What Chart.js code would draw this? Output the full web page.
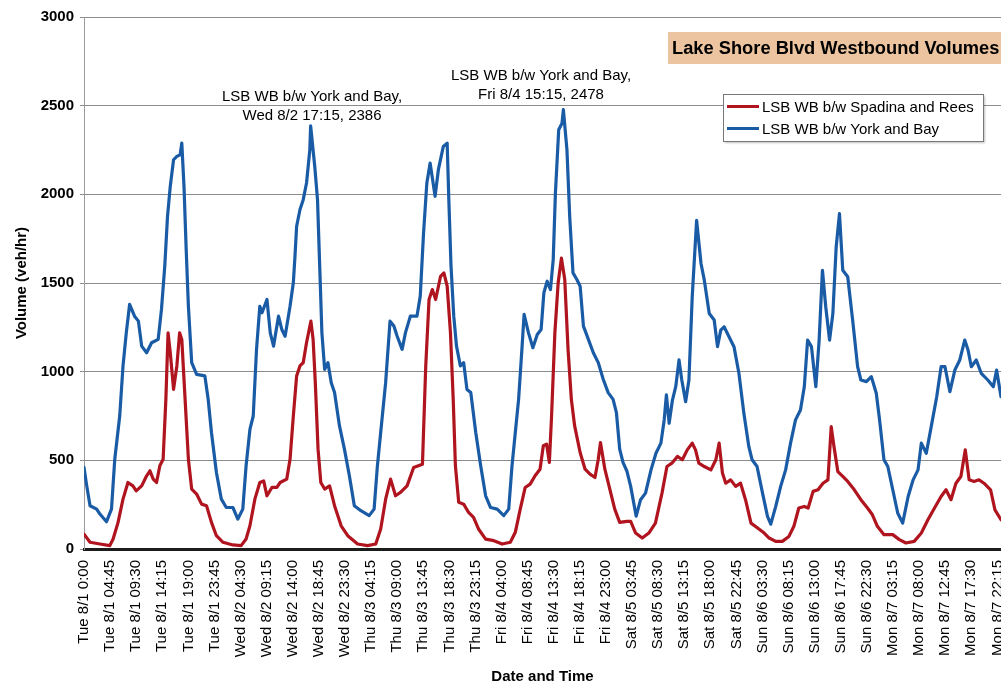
<!DOCTYPE html>
<html>
<head>
<meta charset="utf-8">
<title>Lake Shore Blvd Westbound Volumes</title>
<script src="https://cdn.jsdelivr.net/npm/chart.js@4.4.0/dist/chart.umd.min.js"></script>
<style>
  html, body { margin: 0; padding: 0; background: #fff; overflow: hidden; }
  #wrap { width: 1001px; height: 683px; }
</style>
</head>
<body>
<div id="wrap"><canvas id="chart" width="1001" height="683"></canvas></div>
<script>
// hours counted from Tue 8/1 0:00
const tickLabels = [
  'Tue 8/1 0:00', 'Tue 8/1 04:45', 'Tue 8/1 09:30', 'Tue 8/1 14:15', 'Tue 8/1 19:00', 'Tue 8/1 23:45',
  'Wed 8/2 04:30', 'Wed 8/2 09:15', 'Wed 8/2 14:00', 'Wed 8/2 18:45', 'Wed 8/2 23:30',
  'Thu 8/3 04:15', 'Thu 8/3 09:00', 'Thu 8/3 13:45', 'Thu 8/3 18:30', 'Thu 8/3 23:15',
  'Fri 8/4 04:00', 'Fri 8/4 08:45', 'Fri 8/4 13:30', 'Fri 8/4 18:15', 'Fri 8/4 23:00',
  'Sat 8/5 03:45', 'Sat 8/5 08:30', 'Sat 8/5 13:15', 'Sat 8/5 18:00', 'Sat 8/5 22:45',
  'Sun 8/6 03:30', 'Sun 8/6 08:15', 'Sun 8/6 13:00', 'Sun 8/6 17:45', 'Sun 8/6 22:30',
  'Mon 8/7 03:15', 'Mon 8/7 08:00', 'Mon 8/7 12:45', 'Mon 8/7 17:30', 'Mon 8/7 22:15'
];
const tickStep = 4.75;
const tickHours = tickLabels.map((l, i) => i * tickStep);

// LSB WB b/w York and Bay
const yorkHours = [
  0, 0.5, 1.1, 2.3, 2.9, 4.1, 5.0, 5.6, 6.5, 7.1, 7.7, 8.3, 9.2, 9.9, 10.5, 11.4, 12.3, 13.5, 14.1, 14.7,
  15.2, 15.7, 16.3, 16.9, 17.5, 17.8, 18.2, 18.6, 19.0, 19.6, 20.5, 22.0, 22.6, 23.2, 24.1, 25.0, 25.9, 27.1, 28.0, 28.9,
  29.5, 30.2, 30.8, 31.4, 32.0, 32.4, 33.3, 33.9, 34.5, 35.4, 36.0, 36.6, 37.5, 38.1, 38.4, 38.7, 39.3, 39.9, 40.5, 41.1,
  41.25, 42.0, 42.5, 42.9, 43.3, 43.8, 44.4, 45.0, 45.6, 46.5, 47.4, 48.3, 49.2, 50.4, 51.9, 52.8, 53.4, 54.0, 54.9, 55.7,
  56.4, 57.0, 57.9, 58.5, 59.4, 60.6, 61.2, 61.8, 62.4, 63.0, 63.9, 64.5, 65.4, 66.1, 66.4, 66.8, 67.3, 67.8, 68.5, 69.1,
  69.7, 70.4, 71.3, 72.2, 73.1, 74.0, 75.2, 76.4, 77.3, 77.9, 78.5, 79.1, 79.7, 80.1, 80.9, 81.7, 82.5, 83.2, 83.7, 84.3,
  84.9, 85.4, 85.8, 86.4, 87.0, 87.25, 87.9, 88.4, 89.0, 89.7, 90.3, 90.9, 91.8, 92.7, 93.6, 94.5, 95.4, 96.3, 96.9, 97.5,
  98.1, 98.8, 99.5, 100.5, 101.3, 102.2, 103.2, 104.1, 105.0, 105.6, 106.0, 106.5, 107.1, 107.7, 108.3, 108.8, 109.5, 110.1, 110.7, 111.5,
  112.3, 112.9, 113.8, 114.7, 115.3, 115.9, 116.5, 117.4, 118.3, 119.2, 120.1, 121.0, 121.6, 122.5, 123.5, 124.4, 125.0, 125.9, 126.8, 127.7,
  128.6, 129.5, 130.4, 131.1, 131.7, 132.4, 133.2, 133.8, 134.4, 135.0, 135.7, 136.3, 136.9, 137.5, 138.1, 139.0, 139.9, 140.8, 141.4, 142.4,
  143.3, 144.2, 144.8, 145.6, 146.3, 147.2, 148.1, 149.0, 150.0, 150.9, 151.8, 152.4, 153.3, 154.2, 155.2, 156.0, 156.7, 157.6, 158.5, 159.4,
  160.3, 160.9, 161.5, 162.4, 163.3, 164.5, 165.5, 166.1, 166.9
];
const yorkValues = [
  460, 356, 244, 225, 197, 154, 225, 506, 750, 1032, 1220, 1379, 1313, 1285, 1144, 1107, 1163, 1182, 1351, 1595,
  1876, 2045, 2195, 2214, 2223, 2289, 2045, 1688, 1369, 1051, 985, 976, 844, 657, 431, 281, 234, 234, 169, 225,
  469, 675, 750, 1126, 1369, 1332, 1407, 1219, 1144, 1313, 1238, 1200, 1369, 1501, 1651, 1820, 1913, 1970, 2064, 2251,
  2386, 2157, 1970, 1595, 1219, 1013, 1051, 938, 882, 694, 563, 413, 244, 216, 188, 225, 469, 657, 938, 1285,
  1257, 1200, 1126, 1219, 1313, 1313, 1426, 1782, 2064, 2176, 1989, 2139, 2270, 2289, 1970, 1595, 1313, 1144, 1032, 1051,
  900, 882, 657, 469, 300, 234, 225, 188, 225, 469, 657, 844, 1126, 1323, 1219, 1135, 1210, 1238, 1445, 1510,
  1463, 1632, 2007, 2364, 2401, 2478, 2251, 1876, 1557, 1520, 1482, 1257, 1182, 1107, 1051, 957, 882, 844, 769, 563,
  488, 440, 353, 185, 278, 315, 446, 540, 597, 728, 869, 709, 840, 915, 1066, 953, 831, 953, 1422, 1853,
  1610, 1516, 1328, 1291, 1141, 1234, 1253, 1197, 1141, 991, 765, 578, 503, 465, 315, 184, 140, 240, 353, 446,
  597, 728, 784, 915, 1178, 1141, 915, 1178, 1572, 1366, 1178, 1328, 1703, 1891, 1572, 1535, 1291, 1028, 953, 944,
  972, 878, 728, 503, 465, 334, 203, 146, 296, 390, 446, 597, 540, 690, 859, 1028, 1028, 887, 1009, 1066,
  1178, 1122, 1028, 1066, 991, 953, 915, 1009, 859
];

// LSB WB b/w Spadina and Rees
const spadinaHours = [
  0, 1.1, 2.9, 4.7, 5.3, 6.2, 7.1, 8.0, 8.9, 9.5, 10.5, 11.4, 12.0, 12.6, 13.2, 13.8, 14.4, 14.9, 15.3, 15.7,
  16.3, 16.9, 17.4, 17.8, 18.4, 19.0, 19.6, 20.5, 21.4, 22.3, 23.2, 24.1, 25.3, 27.1, 28.6, 29.5, 30.2, 31.1, 32.0, 32.7,
  33.3, 34.2, 35.1, 35.7, 36.9, 37.5, 38.1, 38.7, 39.3, 39.9, 40.5, 41.3, 41.7, 42.1, 42.6, 43.1, 43.8, 44.7, 45.6, 46.8,
  48.0, 49.8, 51.6, 53.1, 54.0, 54.9, 55.8, 56.7, 57.6, 58.8, 60.0, 61.6, 62.2, 62.8, 63.4, 64.0, 64.9, 65.5, 66.1, 66.7,
  67.2, 67.6, 68.2, 69.1, 70.0, 70.9, 71.8, 73.1, 74.6, 76.1, 77.6, 78.5, 79.4, 80.3, 81.2, 82.1, 83.0, 83.6, 84.2, 84.7,
  85.1, 85.7, 86.3, 86.9, 87.5, 88.1, 88.7, 89.3, 90.3, 91.2, 92.1, 93.0, 93.6, 94.0, 94.8, 95.7, 96.6, 97.5, 98.8, 99.5,
  100.4, 101.6, 102.8, 104.0, 105.2, 106.1, 107.0, 108.0, 108.9, 109.8, 110.7, 111.3, 111.9, 112.9, 114.1, 115.0, 115.6, 116.2, 116.8, 117.7,
  118.6, 119.5, 120.4, 121.4, 122.6, 123.8, 124.7, 125.9, 127.1, 128.3, 129.2, 130.1, 131.1, 131.8, 132.7, 133.6, 134.5, 135.4, 136.0, 136.5,
  137.2, 138.1, 139.0, 140.2, 141.4, 142.6, 143.5, 144.4, 145.6, 147.2, 148.4, 149.6, 151.1, 152.4, 153.6, 154.8, 156.0, 156.9, 157.8, 158.7,
  159.6, 160.4, 161.1, 162.0, 162.9, 163.8, 165.0, 165.8, 166.9
];
const spadinaValues = [
  84, 38, 28, 19, 56, 150, 281, 375, 356, 328, 356, 413, 441, 394, 375, 469, 506, 844, 1219, 1107,
  900, 1032, 1219, 1182, 844, 506, 338, 310, 253, 244, 150, 75, 38, 23, 19, 56, 131, 281, 375, 384,
  300, 347, 347, 375, 394, 506, 750, 976, 1032, 1051, 1163, 1285, 1182, 938, 563, 375, 338, 356, 244, 131,
  75, 28, 19, 28, 113, 281, 394, 300, 319, 356, 460, 478, 1032, 1407, 1463, 1407, 1538, 1557, 1482, 1219,
  844, 469, 263, 253, 206, 178, 113, 56, 47, 28, 38, 94, 225, 347, 366, 413, 450, 582, 591, 488,
  750, 1219, 1501, 1640, 1520, 1126, 844, 694, 544, 450, 422, 403, 506, 600, 450, 338, 225, 150, 156, 156,
  90, 62, 90, 146, 315, 465, 484, 522, 503, 559, 597, 559, 484, 465, 446, 503, 597, 428, 371, 390,
  353, 371, 278, 146, 118, 90, 62, 43, 43, 71, 128, 231, 240, 231, 325, 334, 371, 390, 690, 578,
  437, 409, 381, 334, 278, 231, 193, 128, 81, 81, 53, 34, 43, 90, 165, 231, 296, 334, 278, 371,
  409, 559, 390, 381, 390, 371, 334, 221, 165
];

const seriesNames = ['LSB WB b/w Spadina and Rees', 'LSB WB b/w York and Bay'];
const seriesColors = ['#b0141e', '#1a5ba6'];
const peakNotes = [
  ['LSB WB b/w York and Bay,', 'Wed 8/2 17:15, 2386'],
  ['LSB WB b/w York and Bay,', 'Fri 8/4 15:15, 2478']
];

const FONT = 'Arial, "Liberation Sans", Helvetica, sans-serif';

const overlay = {
  id: 'overlay',
  afterDraw(chart) {
    const ctx = chart.ctx;
    ctx.save();

    // title box
    ctx.fillStyle = 'rgb(236,197,160)';
    ctx.fillRect(668, 32, 345, 32);
    ctx.fillStyle = '#000';
    ctx.font = 'bold 18.3px ' + FONT;
    ctx.textAlign = 'left';
    ctx.textBaseline = 'middle';
    ctx.fillText('Lake Shore Blvd Westbound Volumes', 672, 49);

    // peak notes
    ctx.font = '15px ' + FONT;
    ctx.textAlign = 'center';
    ctx.fillText(peakNotes[0][0], 312, 97);
    ctx.fillText(peakNotes[0][1], 312, 116);
    ctx.fillText(peakNotes[1][0], 541, 76);
    ctx.fillText(peakNotes[1][1], 541, 95);

    // legend
    ctx.shadowColor = 'rgba(0,0,0,0.25)';
    ctx.shadowOffsetX = 1.5;
    ctx.shadowOffsetY = 1.5;
    ctx.shadowBlur = 2;
    ctx.fillStyle = '#fff';
    ctx.fillRect(723.5, 94.5, 260, 47);
    ctx.shadowColor = 'transparent';
    ctx.strokeStyle = '#777';
    ctx.lineWidth = 1;
    ctx.strokeRect(723.5, 94.5, 260, 47);
    ctx.textAlign = 'left';
    ctx.lineWidth = 3;
    seriesNames.forEach((name, i) => {
      const y = 106.5 + i * 22;
      ctx.strokeStyle = seriesColors[i];
      ctx.beginPath();
      ctx.moveTo(727, y);
      ctx.lineTo(759, y);
      ctx.stroke();
      ctx.fillStyle = '#000';
      ctx.fillText(name, 762, y + 1);
    });
    ctx.restore();
  }
};

new Chart(document.getElementById('chart'), {
  type: 'line',
  data: {
    datasets: [
      {
        label: seriesNames[1],
        data: yorkHours.map((h, i) => ({ x: h, y: yorkValues[i] })),
        borderColor: seriesColors[1],
      },
      {
        label: seriesNames[0],
        data: spadinaHours.map((h, i) => ({ x: h, y: spadinaValues[i] })),
        borderColor: seriesColors[0],
      }
    ]
  },
  options: {
    responsive: false,
    animation: false,
    layout: { padding: { top: 17, right: 0, bottom: 0, left: 0 } },
    elements: {
      point: { radius: 0 },
      line: { borderWidth: 3.2, tension: 0, borderJoinStyle: 'round', borderCapStyle: 'round' }
    },
    plugins: {
      legend: { display: false },
      tooltip: { enabled: false },
      title: { display: false }
    },
    scales: {
      x: {
        type: 'linear',
        min: 0,
        max: 166.9,
        afterBuildTicks: s => { s.ticks = tickHours.map(v => ({ value: v })); },
        afterFit: s => { s.height = 134; s.paddingLeft = 0; s.paddingRight = 0; },
        ticks: {
          autoSkip: false,
          maxRotation: 90,
          minRotation: 90,
          padding: 11,
          color: '#000',
          font: { family: FONT, size: 15 },
          callback: (v, i) => tickLabels[i]
        },
        grid: { display: false, drawTicks: false },
        border: { color: '#1c1c1c', width: 3 },
        title: {
          display: true,
          text: 'Date and Time',
          color: '#000',
          font: { family: FONT, size: 15, weight: 'bold' },
          padding: { top: 0, bottom: -3 }
        }
      },
      y: {
        min: 0,
        max: 3000,
        afterFit: s => { s.width = 84; s.paddingTop = 0; s.paddingBottom = 0; },
        ticks: {
          stepSize: 500,
          padding: 6,
          color: '#000',
          font: { family: FONT, size: 15, weight: 'bold' },
          callback: v => String(v)
        },
        grid: { color: '#8c8c8c', lineWidth: 1, tickLength: 4 },
        border: { color: '#9a9a9a', width: 1 },
        title: {
          display: true,
          text: 'Volume (veh/hr)',
          color: '#000',
          font: { family: FONT, size: 15, weight: 'bold' },
          padding: { top: 13, bottom: 0 }
        }
      }
    }
  },
  plugins: [overlay]
});
</script>
</body>
</html>
